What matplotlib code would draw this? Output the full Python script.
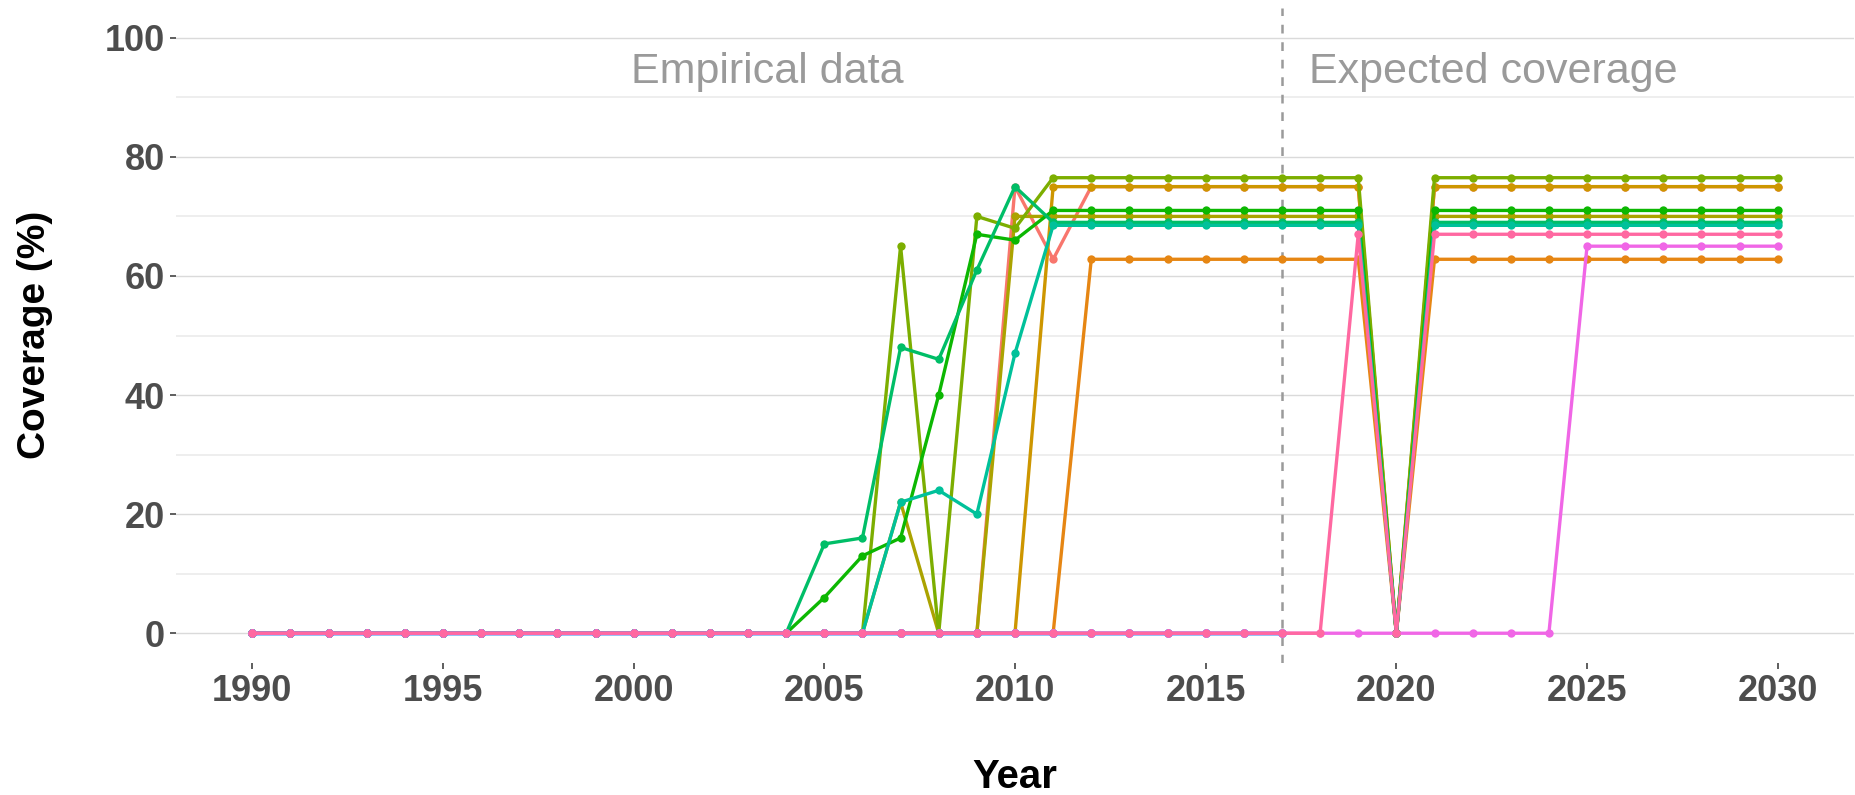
import matplotlib
matplotlib.use("Agg")
import matplotlib.pyplot as plt

plt.rcParams['font.family'] = ['Liberation Sans', 'DejaVu Sans']

# data
years = list(range(1990, 2031))
years_emp = list(range(1990, 2018))   # series that only have empirical zeros

s01 = [0] * 20 + [75, 62.8] + [75] * 8 + [0] + [75] * 10
s02 = [0] * 22 + [62.8] * 8 + [0] + [62.8] * 10
s03 = [0] * 21 + [75] * 9 + [0] + [75] * 10
s04 = [0] * 17 + [22, 0, 0] + [70] * 10 + [0] + [70] * 10
s05 = [0] * 17 + [65, 0, 70, 68] + [76.5] * 9 + [0] + [76.5] * 10
s06 = [0] * 15 + [6, 13, 16, 40, 67, 66] + [71] * 9 + [0] + [71] * 10
s07 = [0] * 15 + [15, 16, 48, 46, 61, 75] + [69] * 9 + [0] + [69] * 10
s08 = [0] * 17 + [22, 24, 20, 47] + [68.5] * 9 + [0] + [68.5] * 10
s09 = [0] * 28
s10 = [0] * 28
s11 = [0] * 28
s12 = [0] * 28
s13 = [0] * 28
s14 = [0] * 35 + [65] * 6
s15 = [0] * 29 + [67, 0] + [67] * 10

series = [s01, s02, s03, s04, s05, s06, s07, s08, s09, s10, s11, s12, s13, s14, s15]
colors = ["#F8766D", "#E68613", "#CD9600", "#ABA300", "#7CAE00", "#0CB702",
          "#00BE67", "#00C19A", "#00BFC4", "#00B8E7", "#00A9FF", "#8494FF",
          "#C77CFF", "#F066E6", "#FF68A1"]

cutoff_year = 2017
xticks = [1990, 1995, 2000, 2005, 2010, 2015, 2020, 2025, 2030]
yticks = [0, 20, 40, 60, 80, 100]

fig = plt.figure(figsize=(18.56, 7.95), dpi=100)
ax = fig.add_axes([176 / 1856, 132 / 795, 1678 / 1856, 655 / 795])

# gridlines (horizontal only)
for v in [10, 30, 50, 70, 90]:
    ax.axhline(v, color="#EBEBEB", lw=1.2, zorder=0)
for v in yticks:
    ax.axhline(v, color="#DADADA", lw=1.0, zorder=0)

for ys, c in zip(series, colors):
    xs = years if len(ys) == len(years) else years_emp
    ax.plot(xs, ys, color=c, lw=2.4, marker='o', ms=6, mec='none', zorder=2)

ax.axvline(cutoff_year, color="#9A9A9A", lw=1.8, ls=(0, (3.5, 3.5)), zorder=1)

ax.text(2003.5, 92.4, "Empirical data", ha='center', va='baseline',
        fontsize=31, color="#9A9A9A")
ax.text(2022.55, 92.4, "Expected coverage", ha='center', va='baseline',
        fontsize=31, color="#9A9A9A")

ax.set_xlim(1988, 2032)
ax.set_ylim(-5, 105)
ax.set_xticks(xticks)
ax.set_yticks(yticks)
ax.tick_params(axis='both', length=4, width=1.1, color="#333333",
               labelsize=26, labelcolor="#4D4D4D", pad=4)
for lab in ax.get_xticklabels() + ax.get_yticklabels():
    lab.set_fontweight('bold')
for sp in ax.spines.values():
    sp.set_visible(False)

fig.text(35 / 1856, (795 - 335) / 795, "Coverage (%)", rotation=90,
         ha='center', va='center', fontsize=28, fontweight='bold', color='black')
fig.text(1015 / 1856, (795 - 788) / 795, "Year", ha='center', va='baseline',
         fontsize=29, fontweight='bold', color='black')

fig.savefig("out.png", dpi=100)
